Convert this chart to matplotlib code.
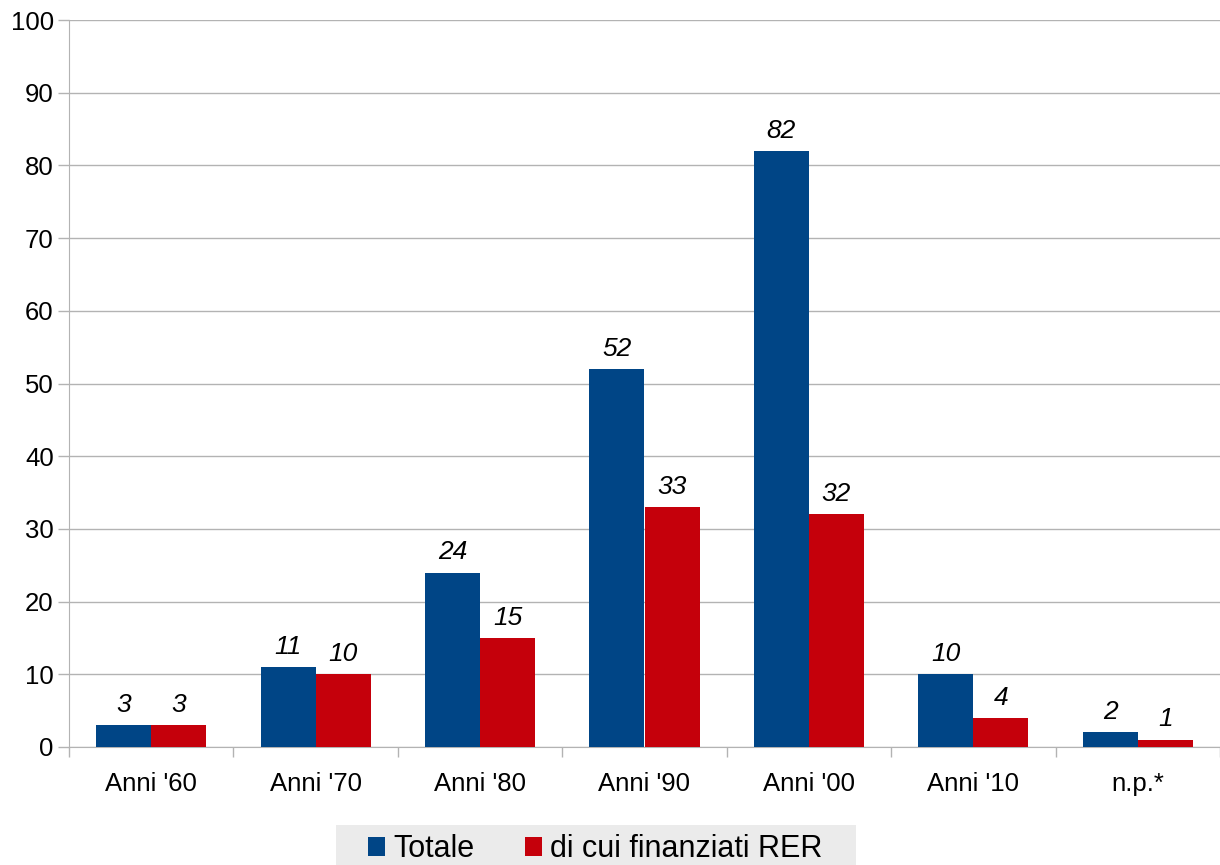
import numpy as np
import matplotlib
matplotlib.use('Agg')
import matplotlib.pyplot as plt
from matplotlib.patches import Rectangle

categories = ["Anni '60", "Anni '70", "Anni '80", "Anni '90", "Anni '00", "Anni '10", "n.p.*"]
totale = [3, 11, 24, 52, 82, 10, 2]
finanziati_rer = [3, 10, 15, 33, 32, 4, 1]

BLUE = '#004586'
RED = '#c5000b'
GRID = '#b3b3b3'

plt.rcParams['font.family'] = ['Liberation Sans', 'DejaVu Sans']

fig = plt.figure(figsize=(12.2, 8.65), dpi=100)
ax = fig.add_axes([69 / 1220, 1 - 747 / 865, 1 - 69 / 1220, (747 - 20) / 865])

x = np.arange(len(categories))
w = 0.335
b1 = ax.bar(x - w / 2, totale, w, color=BLUE, label='Totale', zorder=3)
b2 = ax.bar(x + w / 2, finanziati_rer, w, color=RED, label='di cui finanziati RER', zorder=3)

for bars in (b1, b2):
    for rect in bars:
        h = rect.get_height()
        ax.annotate(f'{h:g}', (rect.get_x() + rect.get_width() / 2, h),
                    xytext=(0, 6), textcoords='offset points',
                    ha='center', va='bottom', fontsize=19, style='italic')

ax.set_xlim(-0.5, len(categories) - 0.5)
ax.set_ylim(0, 100)
ax.set_yticks(range(0, 101, 10))
ax.yaxis.grid(True, color=GRID, linewidth=1, zorder=0)

ax.set_xticks(x)
ax.set_xticklabels(categories)
ax.set_xticks(np.arange(-0.5, len(categories), 1), minor=True)
ax.tick_params(axis='x', which='major', length=0, pad=18, labelsize=18.5)
ax.tick_params(axis='x', which='minor', length=7, color=GRID, width=1)
ax.tick_params(axis='y', length=8, color=GRID, width=1, labelsize=18.5, pad=3)

for s in ('top', 'right'):
    ax.spines[s].set_visible(False)
ax.spines['left'].set_color(GRID)
ax.spines['bottom'].set_color(GRID)

# grey legend background, wider than the legend itself
fig.patches.append(Rectangle((336 / 1220, 0), (856 - 336) / 1220, 40 / 865,
                             transform=fig.transFigure, facecolor='#ebebeb',
                             edgecolor='none', zorder=0))
leg = fig.legend(loc='center', bbox_to_anchor=(595 / 1220, 1 - 849 / 865), ncol=2,
                 frameon=False, fontsize=22, handlelength=0.58, handleheight=0.58,
                 handletextpad=0.25, columnspacing=1.65, borderpad=0.2)

fig.savefig('out.png', dpi=100)
